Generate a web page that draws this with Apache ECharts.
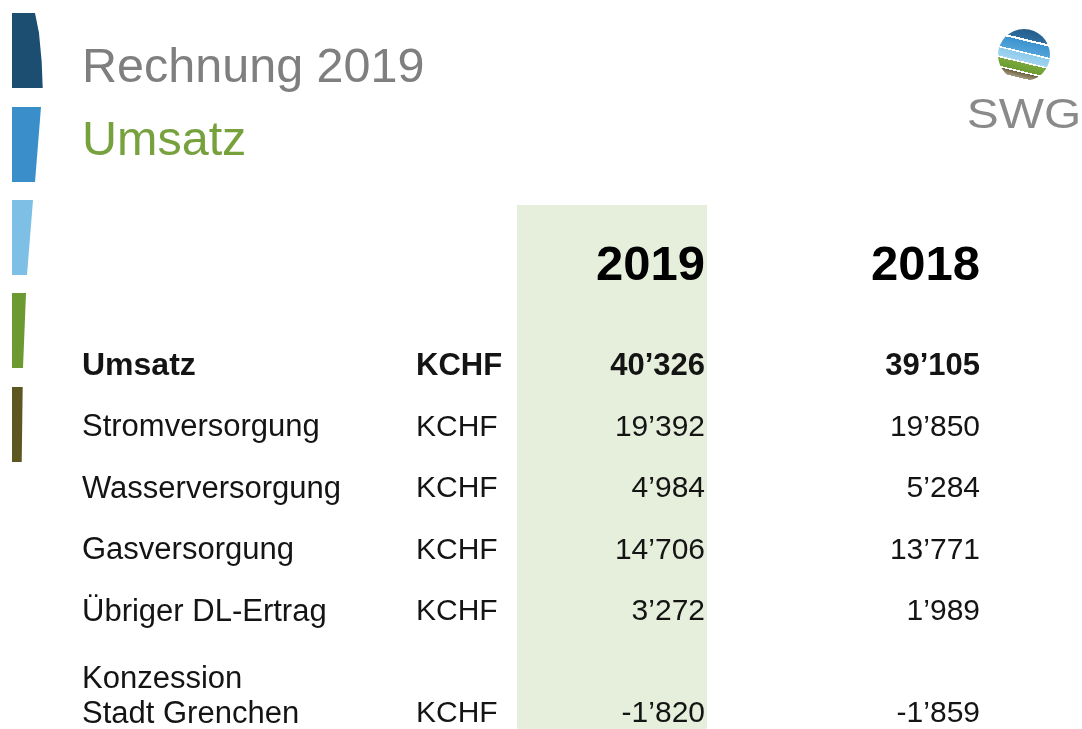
<!DOCTYPE html>
<html>
<head>
<meta charset="utf-8">
<title>Rechnung 2019 - Umsatz</title>
<script src="https://cdn.jsdelivr.net/npm/echarts@6/dist/echarts.min.js"></script>
<style>
  html, body { margin: 0; padding: 0; background: #fff; }
  #chart { width: 1082px; height: 729px; }
</style>
</head>
<body>
<div id="chart"></div>
<script>
// Tabellenzeilen
var rowNames = ['Umsatz', 'Stromversorgung', 'Wasserversorgung', 'Gasversorgung', 'Übriger DL-Ertrag', 'Konzession\nStadt Grenchen'];
var units = ['KCHF', 'KCHF', 'KCHF', 'KCHF', 'KCHF', 'KCHF'];
var years = ['2019', '2018'];
var values2019 = [40326, 19392, 4984, 14706, 3272, -1820];
var values2018 = [39105, 19850, 5284, 13771, 1989, -1859];

var FONT = '"Liberation Sans", Arial, Helvetica, sans-serif';
var TEXT = '#141414';
var ROW_H = 61.5;          // Zeilenabstand
var LINE_H = 34.3;         // Zeilenhoehe innerhalb einer Zelle
var MULTI_SHIFT = 40.5;    // Werte stehen auf der letzten Zeile einer mehrzeiligen Bezeichnung
var PAD = 2;
var TABLE_TOP = 366 - ROW_H / 2;

function fmt(v) {
  var s = String(Math.abs(v)).replace(/\B(?=(\d{3})+(?!\d))/g, '\u2019');
  return (v < 0 ? '-' : '') + s;
}
function lineCount(i) { return rowNames[i].split('\n').length; }
function rowShift(i) { return (lineCount(i) - 1) * MULTI_SHIFT; }

function rowLabel(value, idx) {
  var b = idx === 0 ? 'b' : '';
  var lines = value.split('\n');
  var last = lines.pop();
  var out = '';
  if (lines.length) {
    out += '{sp| }\n' + lines.map(function (l) { return '{n' + b + '|' + l + '}'; }).join('\n') + '\n';
  }
  return out + '{w' + b + '|' + last + '}{u' + b + '|' + units[idx] + '}';
}

var cellStyle = { fontSize: 31, fontFamily: FONT, color: TEXT, lineHeight: LINE_H };
function rs(extra) { return Object.assign({}, cellStyle, extra); }

function cellSeries(axisIdx, values) {
  return {
    type: 'custom',
    xAxisIndex: axisIdx,
    yAxisIndex: axisIdx,
    data: values.map(function (v, i) { return [0, i, v]; }),
    renderItem: function (params, api) {
      var row = api.value(1);
      var pt = api.coord([0, row]);
      var band = api.size([1, 1]);
      return {
        type: 'text',
        x: pt[0] + band[0] / 2 - PAD,
        y: pt[1] + rowShift(row),
        style: {
          text: fmt(api.value(2)),
          align: 'right',
          verticalAlign: 'middle',
          fontSize: row === 0 ? 31 : 30,
          fontWeight: row === 0 ? 'bold' : 'normal',
          fontFamily: FONT,
          fill: TEXT
        }
      };
    }
  };
}

function yearAxis(gridIdx, year) {
  return {
    type: 'category', gridIndex: gridIdx, position: 'top', data: [year],
    axisLine: { show: false }, axisTick: { show: false }, splitLine: { show: false },
    axisLabel: {
      margin: TABLE_TOP - 266,
      verticalAlign: 'middle',
      formatter: function (v) { return '{h|' + v + '}'; },
      rich: { h: { width: 190 - 2 * PAD, align: 'right', fontSize: 49, fontWeight: 'bold', fontFamily: FONT, color: '#000' } }
    }
  };
}

function rowAxis(gridIdx, showLabels) {
  var sp = 2 * MULTI_SHIFT - LINE_H;
  return {
    type: 'category', gridIndex: gridIdx, inverse: true, data: rowNames,
    axisLine: { show: false }, axisTick: { show: false }, splitLine: { show: false },
    axisLabel: {
      show: showLabels,
      interval: 0,
      align: 'left',
      margin: 517 - 82,
      formatter: rowLabel,
      rich: {
        sp: { fontSize: 2, lineHeight: sp },
        n: rs({}), nb: rs({ fontWeight: 'bold', fontSize: 32 }),
        w: rs({ width: 334 }), wb: rs({ width: 334, fontWeight: 'bold', fontSize: 32 }),
        u: rs({ fontSize: 30 }), ub: rs({ fontWeight: 'bold', fontSize: 31 })
      }
    }
  };
}

var chart = echarts.init(document.getElementById('chart'));

// dekorative Balken links
var barColors = ['#1c4e71', '#3a8fca', '#7dbfe5', '#6c9a30', '#5d5620'];
var barShapes = [
  [[12, 13], [35, 13], [39, 33], [41.7, 62], [42.7, 88], [12, 88]],
  [[12, 107], [41, 107], [35, 182], [12, 182]],
  [[12, 200], [33, 200], [27, 275], [12, 275]],
  [[12, 293], [26, 293], [23, 368], [12, 368]],
  [[12, 387], [22.7, 387], [21.7, 462], [12, 462]]
];
var graphics = barShapes.map(function (pts, i) {
  return { type: 'polygon', shape: { points: pts }, style: { fill: barColors[i] } };
});
// Logo SWG
graphics.push({
  type: 'circle', shape: { cx: 1024, cy: 55, r: 26 },
  style: {
    fill: new echarts.graphic.LinearGradient(0.62, 0, 0.38, 1, [
      { offset: 0, color: '#245c8a' }, { offset: 0.2, color: '#2e6c9e' },
      { offset: 0.2, color: '#ffffff' }, { offset: 0.24, color: '#ffffff' },
      { offset: 0.24, color: '#3b93cf' }, { offset: 0.44, color: '#52a3d8' },
      { offset: 0.44, color: '#ffffff' }, { offset: 0.47, color: '#ffffff' },
      { offset: 0.47, color: '#8ccbec' }, { offset: 0.62, color: '#a2d4ef' },
      { offset: 0.62, color: '#ffffff' }, { offset: 0.65, color: '#ffffff' },
      { offset: 0.65, color: '#7aa83c' }, { offset: 0.8, color: '#6c9d32' },
      { offset: 0.8, color: '#ffffff' }, { offset: 0.83, color: '#ffffff' },
      { offset: 0.83, color: '#6f6240' }, { offset: 0.93, color: '#a39a80' },
      { offset: 0.93, color: '#ffffff' }, { offset: 1, color: '#ffffff' }
    ])
  }
});
graphics.push({
  type: 'text', x: 1024, y: 116, scaleX: 1.14, originX: 0, originY: 0,
  style: { text: 'SWG', fontSize: 42, fontFamily: FONT, fill: '#8a8a8a', align: 'center', verticalAlign: 'middle' }
});

chart.setOption({
  backgroundColor: '#fff',
  animation: false,
  title: {
    text: 'Rechnung 2019',
    subtext: 'Umsatz',
    left: 82, top: 45, itemGap: 24, padding: 0,
    textStyle: { fontSize: 48.5, fontWeight: 'normal', color: '#7f7f7f', fontFamily: FONT, lineHeight: 48 },
    subtextStyle: { fontSize: 48.5, color: '#77a13d', fontFamily: FONT, lineHeight: 48 }
  },
  graphic: graphics,
  grid: [
    { left: 517, width: 190, top: 205, bottom: 0, show: true, backgroundColor: '#e6efdb', borderWidth: 0, outerBoundsMode: 'none' },
    { left: 517, width: 190, top: TABLE_TOP, height: ROW_H * rowNames.length, outerBoundsMode: 'none' },
    { left: 792, width: 190, top: TABLE_TOP, height: ROW_H * rowNames.length, outerBoundsMode: 'none' }
  ],
  xAxis: [
    { type: 'value', gridIndex: 0, show: false, min: 0, max: 1 },
    yearAxis(1, years[0]),
    yearAxis(2, years[1])
  ],
  yAxis: [
    { type: 'value', gridIndex: 0, show: false, min: 0, max: 1 },
    rowAxis(1, true),
    rowAxis(2, false)
  ],
  series: [
    cellSeries(1, values2019),
    cellSeries(2, values2018)
  ]
});
</script>
</body>
</html>
